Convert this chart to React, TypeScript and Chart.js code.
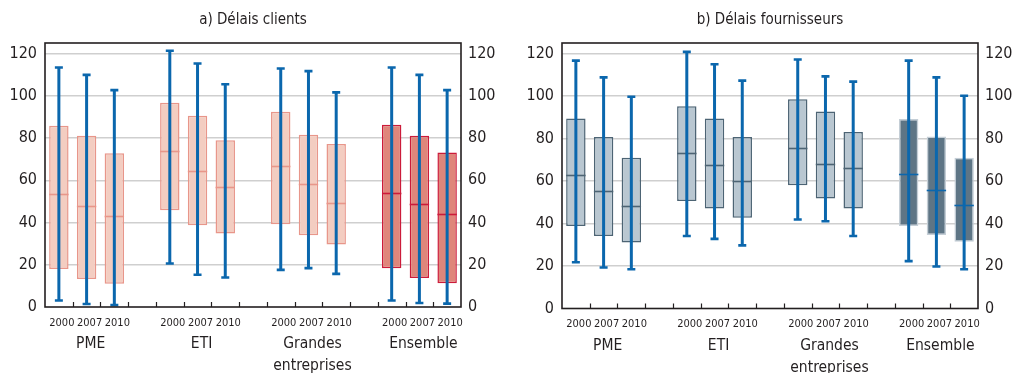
import React, { useEffect, useRef } from 'react';
import { Chart, registerables } from 'chart.js';

Chart.register(...registerables);

const FONT = "'DejaVu Sans Condensed', 'Liberation Sans Narrow', 'Liberation Sans', sans-serif";
const TEXT = '#231f20';

const yearLabels = ['2000', '2007', '2010'];
const groupLabels = [['PME'], ['ETI'], ['Grandes', 'entreprises'], ['Ensemble']];

// a) Délais clients
const clientsMin = [3.1, 1.4, 0.9, 20.6, 15.3, 14.0, 17.6, 18.4, 15.7, 3.1, 1.9, 1.6];
const clientsQ1 = [18.0, 13.2, 11.0, 45.8, 38.7, 34.8, 39.2, 34.0, 29.6, 18.4, 13.7, 11.3];
const clientsMed = [53.7, 47.9, 43.1, 74.0, 64.4, 56.7, 66.8, 58.4, 49.3, 54.2, 49.0, 44.1];
const clientsQ3 = [85.8, 81.1, 72.8, 96.7, 90.6, 78.9, 92.4, 81.6, 77.2, 86.3, 81.1, 73.2];
const clientsMax = [113.4, 109.9, 102.7, 121.3, 115.3, 105.5, 112.9, 111.7, 101.6, 113.4, 109.9, 102.7];

// b) Délais fournisseurs
const fournMin = [21.8, 19.3, 18.5, 34.1, 32.8, 29.7, 41.9, 41.1, 34.1, 22.3, 19.8, 18.5];
const fournQ1 = [38.8, 34.1, 31.1, 50.6, 47.1, 42.7, 58.0, 51.8, 47.1, 38.8, 34.6, 31.4];
const fournMed = [62.7, 55.3, 48.4, 73.2, 67.5, 60.2, 75.4, 68.0, 66.3, 63.3, 55.8, 48.8];
const fournQ3 = [89.4, 80.7, 71.0, 95.2, 89.4, 80.7, 98.5, 92.7, 83.1, 89.2, 81.0, 71.0];
const fournMax = [116.7, 108.8, 99.7, 120.8, 115.0, 107.3, 117.2, 109.3, 106.8, 116.7, 108.8, 100.2];

const WHISKER = '#0b67ad';

const clientsStyle = {
  fill: '#f3cdc1', border: '#e8968a', median: '#e8968a',
  ensFill: '#df867b', ensBorder: '#cc1b3a', ensMedian: '#cc1b3a',
};
const fournStyle = {
  fill: '#b9c7d1', border: '#4d6474', median: '#4d6474',
  ensFill: '#5e7585', ensBorder: '#c4ced6', ensMedian: '#0b67ad',
};

function toSlots<T>(values: T[], blank: any): any[] {
  const out: any[] = [];
  values.forEach((v, i) => {
    if (i > 0 && i % 3 === 0) out.push(blank);
    out.push(v);
  });
  return out;
}

type PanelProps = {
  title: string;
  mins: number[]; q1s: number[]; meds: number[]; q3s: number[]; maxs: number[];
  st: any;
  leftW: number; rightW: number; bottomH: number;
};

function Panel({ title, mins, q1s, meds, q3s, maxs, st, leftW, rightW, bottomH }: PanelProps) {
  const ref = useRef<HTMLCanvasElement>(null);
  useEffect(() => {
    const cats = toSlots(groupLabels.flatMap(() => yearLabels), '');
    const lo = toSlots(q1s, null);
    const hi = toSlots(q3s, null);
    const mn = toSlots(mins, null);
    const mx = toSlots(maxs, null);
    const md = toSlots(meds, null);
    const ens = cats.map((_, i) => i >= 12);
    const boxData = lo.map((v, i) => (v == null ? null : [v, hi[i]]));

    const plugin = {
      id: 'boxExtras',
      afterDatasetsDraw(chart: any) {
        const { ctx, scales } = chart;
        const x = scales.x, y = scales.y;
        const meta = chart.getDatasetMeta(0);
        ctx.save();
        // medians
        md.forEach((m: number | null, i: number) => {
          if (m == null) return;
          const bar = meta.data[i];
          const half = bar.width / 2;
          const cx = x.getPixelForValue(i);
          const py = Math.round(y.getPixelForValue(m)) + 0.5;
          ctx.beginPath();
          ctx.strokeStyle = ens[i] ? st.ensMedian : st.median;
          ctx.lineWidth = 1.6;
          ctx.moveTo(cx - half, py);
          ctx.lineTo(cx + half, py);
          ctx.stroke();
        });
        // whiskers
        mn.forEach((lowV: number | null, i: number) => {
          if (lowV == null) return;
          const cx = x.getPixelForValue(i);
          const y1 = y.getPixelForValue(lowV);
          const y2 = y.getPixelForValue(mx[i]);
          ctx.strokeStyle = WHISKER;
          ctx.lineCap = 'butt';
          ctx.lineWidth = 3;
          ctx.beginPath();
          ctx.moveTo(cx, y1);
          ctx.lineTo(cx, y2);
          ctx.stroke();
          ctx.lineWidth = 2.6;
          ctx.beginPath();
          ctx.moveTo(cx - 4, y1);
          ctx.lineTo(cx + 4, y1);
          ctx.moveTo(cx - 4, y2);
          ctx.lineTo(cx + 4, y2);
          ctx.stroke();
        });
        ctx.restore();
      },
      afterDraw(chart: any) {
        const { ctx, chartArea, scales } = chart;
        const x = scales.x;
        ctx.save();
        // frame
        ctx.strokeStyle = TEXT;
        ctx.lineWidth = 1.6;
        ctx.strokeRect(chartArea.left, chartArea.top, chartArea.right - chartArea.left, chartArea.bottom - chartArea.top);
        // inward tick marks at category boundaries
        ctx.lineWidth = 1.2;
        ctx.beginPath();
        for (let i = 1; i < cats.length; i++) {
          const bx = Math.round((x.getPixelForValue(i - 1) + x.getPixelForValue(i)) / 2) + 0.5;
          ctx.moveTo(bx, chartArea.bottom);
          ctx.lineTo(bx, chartArea.bottom - 5);
        }
        ctx.stroke();
        // title
        ctx.fillStyle = TEXT;
        ctx.textAlign = 'center';
        ctx.textBaseline = 'middle';
        ctx.font = `15px ${FONT}`;
        ctx.fillText(title, (chartArea.left + chartArea.right) / 2, 20);
        // year labels
        ctx.font = `11px ${FONT}`;
        cats.forEach((c: string, i: number) => {
          if (!c) return;
          ctx.fillText(c, x.getPixelForValue(i) + 3, chartArea.bottom + 16);
        });
        // group labels
        ctx.font = `15.5px ${FONT}`;
        groupLabels.forEach((lines, g) => {
          const cx = x.getPixelForValue(g * 4 + 1) + 4;
          lines.forEach((ln, k) => {
            ctx.fillText(ln, cx, chartArea.bottom + 37 + k * 22);
          });
        });
        ctx.restore();
      },
    };

    const tickFont = { family: FONT, size: 16 };
    const chart = new Chart(ref.current as HTMLCanvasElement, {
      type: 'bar',
      data: {
        labels: cats,
        datasets: [
          {
            data: boxData as any,
            backgroundColor: ens.map((e) => (e ? st.ensFill : st.fill)),
            borderColor: ens.map((e) => (e ? st.ensBorder : st.border)),
            borderWidth: 1.5,
            borderSkipped: false,
            barPercentage: 0.7,
            categoryPercentage: 1,
          },
        ],
      },
      options: {
        animation: false,
        responsive: false,
        devicePixelRatio: 1,
        layout: { padding: { top: 43, left: 0, right: 0, bottom: 0 } },
        plugins: { legend: { display: false }, tooltip: { enabled: false }, title: { display: false } },
        scales: {
          x: {
            grid: { display: false },
            border: { display: false },
            ticks: { display: false },
            afterFit: (s: any) => { s.height = bottomH; },
          },
          y: {
            position: 'left',
            min: 0,
            max: 125,
            ticks: { stepSize: 20, includeBounds: false, padding: 8, color: TEXT, font: tickFont },
            grid: {
              color: (c: any) => (c.tick && c.tick.value === 0 ? 'rgba(0,0,0,0)' : '#cfcfcf'),
              lineWidth: 1.5,
              drawTicks: false,
            },
            border: { display: false },
            afterBuildTicks: (s: any) => { s.ticks = s.ticks.filter((t: any) => t.value % 20 === 0); },
            afterFit: (s: any) => { s.width = leftW; },
          },
          y2: {
            position: 'right',
            min: 0,
            max: 125,
            ticks: { stepSize: 20, includeBounds: false, padding: 7, color: TEXT, font: tickFont },
            grid: { display: false, drawTicks: false },
            border: { display: false },
            afterBuildTicks: (s: any) => { s.ticks = s.ticks.filter((t: any) => t.value % 20 === 0); },
            afterFit: (s: any) => { s.width = rightW; },
          },
        },
      } as any,
      plugins: [plugin],
    });
    return () => chart.destroy();
  }, []);
  return <canvas ref={ref} width={507} height={373} style={{ display: 'block', width: 507, height: 373 }} />;
}

export default function App() {
  return (
    <div style={{ position: 'fixed', left: 0, top: 0, width: 1014, height: 373, background: '#fff', display: 'flex' }}>
      <Panel title="a) Délais clients" mins={clientsMin} q1s={clientsQ1} meds={clientsMed} q3s={clientsQ3} maxs={clientsMax}
        st={clientsStyle} leftW={45} rightW={46} bottomH={66} />
      <Panel title="b) Délais fournisseurs" mins={fournMin} q1s={fournQ1} meds={fournMed} q3s={fournQ3} maxs={fournMax}
        st={fournStyle} leftW={55} rightW={36} bottomH={64.5} />
    </div>
  );
}
